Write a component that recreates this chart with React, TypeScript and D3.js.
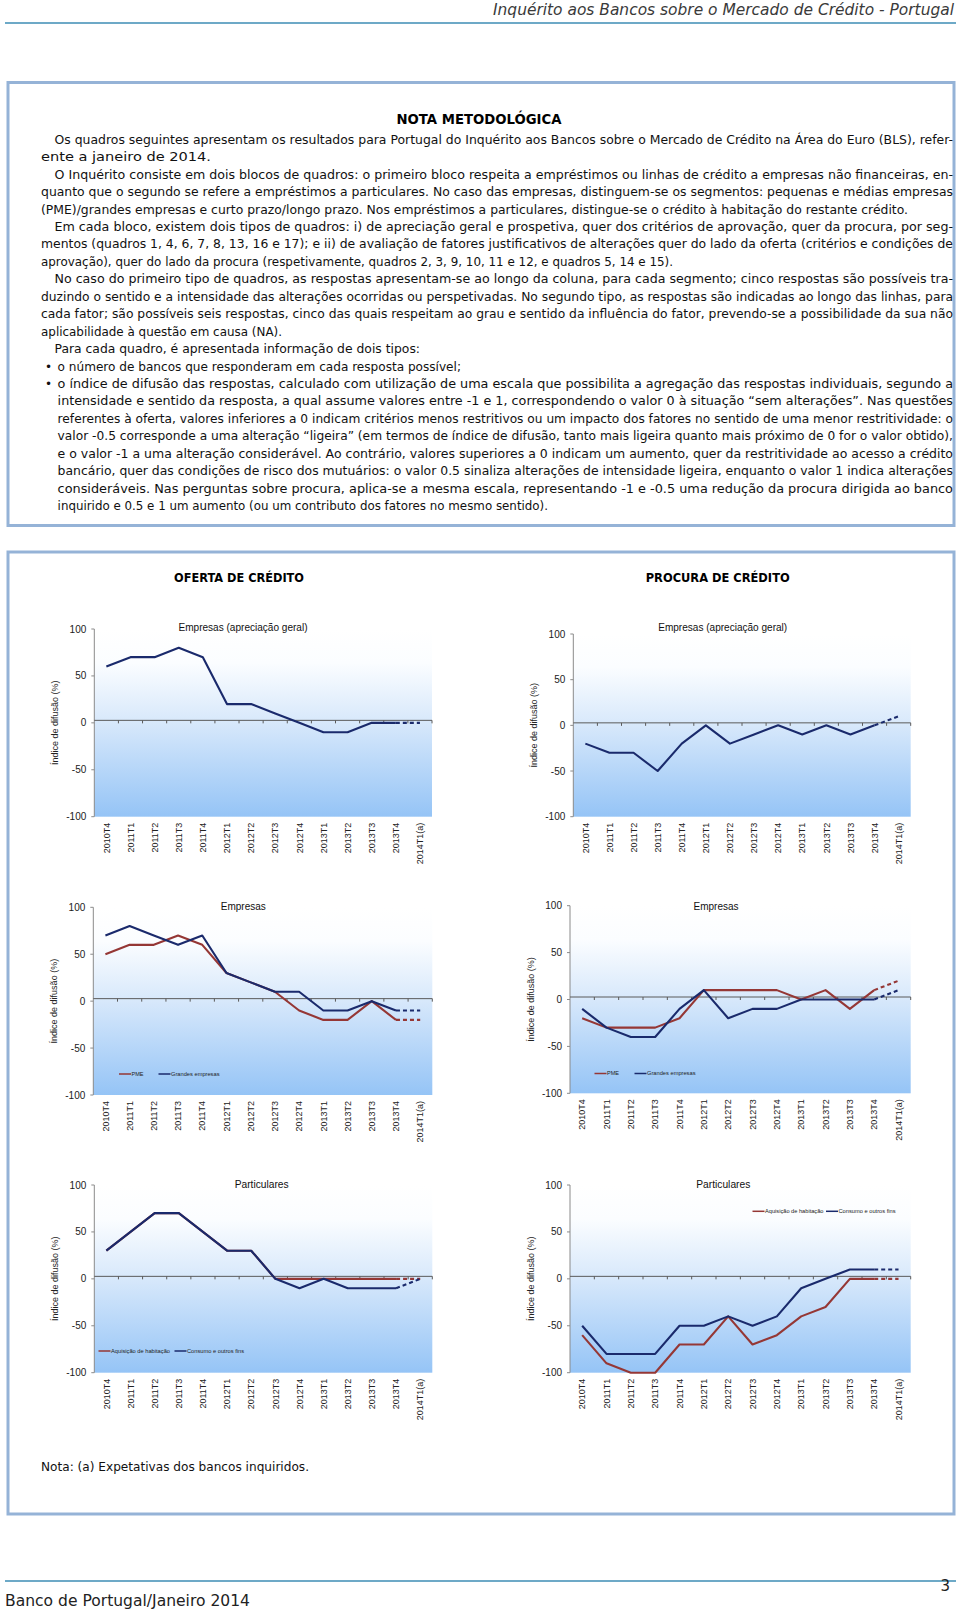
import React from 'react';
import * as d3 from 'd3';

const categories = ['2010T4','2011T1','2011T2','2011T3','2011T4','2012T1','2012T2','2012T3','2012T4','2013T1','2013T2','2013T3','2013T4','2014T1(a)'];
const yTicks = [100, 50, 0, -50, -100];

const ofertaGeral = [60, 70, 70, 80, 70, 20, 20, 10, 0, -10, -10, 0, 0, 0];
const procuraGeral = [-20, -30, -30, -50, -20, 0, -20, -10, 0, -10, 0, -10, 0, 10];
const ofertaPME = [50, 60, 60, 70, 60, 30, 20, 10, -10, -20, -20, 0, -20, -20];
const ofertaGrandes = [70, 80, 70, 60, 70, 30, 20, 10, 10, -10, -10, 0, -10, -10];
const procuraPME = [-20, -30, -30, -30, -20, 10, 10, 10, 10, 0, 10, -10, 10, 20];
const procuraGrandes = [-10, -30, -40, -40, -10, 10, -20, -10, -10, 0, 0, 0, 0, 10];
const ofertaHabitacao = [30, 50, 70, 70, 50, 30, 30, 0, 0, 0, 0, 0, 0, 0];
const ofertaConsumo = [30, 50, 70, 70, 50, 30, 30, 0, -10, 0, -10, -10, -10, 0];
const procuraHabitacao = [-60, -90, -100, -100, -70, -70, -40, -70, -60, -40, -30, 0, 0, 0];
const procuraConsumo = [-50, -80, -80, -80, -50, -50, -40, -50, -40, -10, 0, 10, 10, 10];

const NAVY = '#1a2a6c';
const RED = '#953735';
const CHART_FONT = '"Liberation Sans", Arial, sans-serif';
const BODY_FONT = '"DejaVu Sans", sans-serif';

type Line = { t: string; x: number; end: number; bullet?: boolean };
const bodyLines: Line[] = [
  { t: 'Os quadros seguintes apresentam os resultados para Portugal do Inquérito aos Bancos sobre o Mercado de Crédito na Área do Euro (BLS), refer-', x: 54.5, end: 953 },
  { t: 'ente a janeiro de 2014.', x: 41, end: 211 },
  { t: 'O Inquérito consiste em dois blocos de quadros: o primeiro bloco respeita a empréstimos ou linhas de crédito a empresas não financeiras, en-', x: 54.5, end: 953 },
  { t: 'quanto que o segundo se refere a empréstimos a particulares. No caso das empresas, distinguem-se os segmentos: pequenas e médias empresas', x: 41, end: 953 },
  { t: '(PME)/grandes empresas e curto prazo/longo prazo. Nos empréstimos a particulares, distingue-se o crédito à habitação do restante crédito.', x: 41, end: 908 },
  { t: 'Em cada bloco, existem dois tipos de quadros: i) de apreciação geral e prospetiva, quer dos critérios de aprovação, quer da procura, por seg-', x: 54.5, end: 953 },
  { t: 'mentos (quadros 1, 4, 6, 7, 8, 13, 16 e 17); e ii) de avaliação de fatores justificativos de alterações quer do lado da oferta (critérios e condições de', x: 41, end: 953 },
  { t: 'aprovação), quer do lado da procura (respetivamente, quadros 2, 3, 9, 10, 11 e 12, e quadros 5, 14 e 15).', x: 41, end: 673 },
  { t: 'No caso do primeiro tipo de quadros, as respostas apresentam-se ao longo da coluna, para cada segmento; cinco respostas são possíveis tra-', x: 54.5, end: 953 },
  { t: 'duzindo o sentido e a intensidade das alterações ocorridas ou perspetivadas. No segundo tipo, as respostas são indicadas ao longo das linhas, para', x: 41, end: 953 },
  { t: 'cada fator; são possíveis seis respostas, cinco das quais respeitam ao grau e sentido da influência do fator, prevendo-se a possibilidade da sua não', x: 41, end: 953 },
  { t: 'aplicabilidade à questão em causa (NA).', x: 41, end: 282 },
  { t: 'Para cada quadro, é apresentada informação de dois tipos:', x: 54.5, end: 420 },
  { t: 'o número de bancos que responderam em cada resposta possível;', x: 57.6, end: 461, bullet: true },
  { t: 'o índice de difusão das respostas, calculado com utilização de uma escala que possibilita a agregação das respostas individuais, segundo a', x: 57.6, end: 953, bullet: true },
  { t: 'intensidade e sentido da resposta, a qual assume valores entre -1 e 1, correspondendo o valor 0 à situação “sem alterações”. Nas questões', x: 57.6, end: 953 },
  { t: 'referentes à oferta, valores inferiores a 0 indicam critérios menos restritivos ou um impacto dos fatores no sentido de uma menor restritividade: o', x: 57.6, end: 953 },
  { t: 'valor -0.5 corresponde a uma alteração “ligeira” (em termos de índice de difusão, tanto mais ligeira quanto mais próximo de 0 for o valor obtido),', x: 57.6, end: 953 },
  { t: 'e o valor -1 a uma alteração considerável. Ao contrário, valores superiores a 0 indicam um aumento, quer da restritividade ao acesso a crédito', x: 57.6, end: 953 },
  { t: 'bancário, quer das condições de risco dos mutuários: o valor 0.5 sinaliza alterações de intensidade ligeira, enquanto o valor 1 indica alterações', x: 57.6, end: 953 },
  { t: 'consideráveis. Nas perguntas sobre procura, aplica-se a mesma escala, representando -1 e -0.5 uma redução da procura dirigida ao banco', x: 57.6, end: 953 },
  { t: 'inquirido e 0.5 e 1 um aumento (ou um contributo dos fatores no mesmo sentido).', x: 57.6, end: 548 },
];

type Series = { name: string; values: number[]; color: string };
type LegendItem = { label: string; color: string; x: number; w: number };

interface ChartProps {
  id: string;
  x0: number; x1: number; yTop: number; yBottom: number;
  title: string; titleX: number; titleY: number; titleW: number;
  series: Series[];
  legend?: { y: number; items: LegendItem[] };
}

function Chart(p: ChartProps) {
  const x = d3.scaleBand<string>().domain(categories).range([p.x0, p.x1]);
  const y = d3.scaleLinear().domain([-100, 100]).range([p.yBottom, p.yTop]);
  const cx = (i: number) => (x(categories[i]) as number) + x.bandwidth() / 2;
  const line = d3.line<[number, number]>().x(d => cx(d[0])).y(d => y(d[1]));
  const zeroY = y(0) - 2.5;
  const last = categories.length - 1;
  return (
    <g>
      <defs>
        <linearGradient id={p.id} x1="0" y1="0" x2="0" y2="1">
          <stop offset="0" stopColor="#ffffff" />
          <stop offset="0.18" stopColor="#fbfdff" />
          <stop offset="0.5" stopColor="#d7e8fb" />
          <stop offset="1" stopColor="#95c4f6" />
        </linearGradient>
      </defs>
      <rect x={p.x0} y={p.yTop} width={p.x1 - p.x0} height={p.yBottom - p.yTop} fill={`url(#${p.id})`} />
      <line x1={p.x0} x2={p.x0} y1={p.yTop} y2={p.yBottom} stroke="#8a8a8a" strokeWidth={1} />
      {yTicks.map(t => (
        <g key={t}>
          <line x1={p.x0 - 3} x2={p.x0} y1={y(t)} y2={y(t)} stroke="#8a8a8a" />
          <text x={p.x0 - 8} y={y(t)} dy="0.35em" textAnchor="end" fontSize={10} fontFamily={CHART_FONT} fill="#222">{t}</text>
        </g>
      ))}
      <line x1={p.x0} x2={p.x1} y1={zeroY} y2={zeroY} stroke="#5a5a5a" strokeWidth={1} />
      {categories.map((c) => (
        <line key={'tk' + c} x1={(x(c) as number) + x.bandwidth()} x2={(x(c) as number) + x.bandwidth()} y1={zeroY} y2={zeroY + 3} stroke="#5a5a5a" />
      ))}
      {categories.map((c, i) => (
        <text key={c} transform={`translate(${cx(i) + 3.2},${p.yBottom + 6}) rotate(-90)`} textAnchor="end" fontSize={9} fontFamily={CHART_FONT} fill="#222">{c}</text>
      ))}
      <text transform={`translate(${p.x0 - 36},${(p.yTop + p.yBottom) / 2}) rotate(-90)`} textAnchor="middle" fontSize={9} fontFamily={CHART_FONT} fill="#222">Índice de difusão (%)</text>
      <text x={p.titleX} y={p.titleY} dy="0.35em" textAnchor="middle" fontSize={10} fontFamily={CHART_FONT} fill="#111" textLength={p.titleW} lengthAdjust="spacingAndGlyphs">{p.title}</text>
      {p.series.map(s => {
        const pts: [number, number][] = s.values.map((v, i) => [i, v]);
        return (
          <g key={s.name}>
            <path d={line(pts.slice(0, last)) as string} fill="none" stroke={s.color} strokeWidth={2.1} strokeLinejoin="round" />
            <path d={line(pts.slice(last - 1)) as string} fill="none" stroke={s.color} strokeWidth={2.1} strokeDasharray="4,3" />
          </g>
        );
      })}
      {p.legend && p.legend.items.map(it => (
        <g key={it.label}>
          <line x1={it.x} x2={it.x + 12} y1={p.legend!.y} y2={p.legend!.y} stroke={it.color} strokeWidth={1.5} />
          <text x={it.x + 12.5} y={p.legend!.y} dy="0.35em" fontSize={5.6} fontFamily={CHART_FONT} fill="#222" textLength={it.w} lengthAdjust="spacingAndGlyphs">{it.label}</text>
        </g>
      ))}
    </g>
  );
}

export default function App() {
  const lineY0 = 139.5;
  const lineStep = 17.45;
  return (
    <svg width={960} height={1612} viewBox="0 0 960 1612" style={{ position: 'absolute', left: 0, top: 0, background: '#fff' }}>
      <rect x={0} y={0} width={960} height={1612} fill="#fff" />
      {/* header */}
      <text x={954} y={15} textAnchor="end" fontSize={15} fontStyle="italic" fontFamily={BODY_FONT} fill="#3a3a3a" textLength={461} lengthAdjust="spacingAndGlyphs">Inquérito aos Bancos sobre o Mercado de Crédito - Portugal</text>
      <line x1={5} x2={956} y1={23} y2={23} stroke="#3d8db5" strokeWidth={1.5} />

      {/* box 1 */}
      <rect x={8} y={82.5} width={946} height={443} fill="none" stroke="#95b3d7" strokeWidth={3} />
      <text x={479} y={119} dy="0.35em" textAnchor="middle" fontSize={14} fontWeight="bold" fontFamily={BODY_FONT} fill="#000" textLength={165} lengthAdjust="spacingAndGlyphs">NOTA METODOLÓGICA</text>
      {bodyLines.map((l, i) => (
        <g key={i}>
          {l.bullet && <text x={45} y={lineY0 + i * lineStep} dy="0.35em" fontSize={12} fontFamily={BODY_FONT} fill="#111">•</text>}
          <text x={l.x} y={lineY0 + i * lineStep} dy="0.35em" fontSize={12} fontFamily={BODY_FONT} fill="#111" textLength={l.end - l.x} lengthAdjust="spacingAndGlyphs">{l.t}</text>
        </g>
      ))}

      {/* box 2 */}
      <rect x={8} y={552} width={946} height={962} fill="none" stroke="#95b3d7" strokeWidth={3} />
      <text x={239} y={577} dy="0.35em" textAnchor="middle" fontSize={13} fontWeight="bold" fontFamily={BODY_FONT} fill="#000" textLength={130} lengthAdjust="spacingAndGlyphs">OFERTA DE CRÉDITO</text>
      <text x={717.7} y={577} dy="0.35em" textAnchor="middle" fontSize={13} fontWeight="bold" fontFamily={BODY_FONT} fill="#000" textLength={144} lengthAdjust="spacingAndGlyphs">PROCURA DE CRÉDITO</text>

      <Chart id="g1" x0={94.3} x1={432} yTop={629} yBottom={816.7} title="Empresas (apreciação geral)" titleX={243} titleY={627} titleW={129}
        series={[{ name: 'geral', values: ofertaGeral, color: NAVY }]} />
      <Chart id="g2" x0={573.3} x1={910.7} yTop={634} yBottom={816.7} title="Empresas (apreciação geral)" titleX={722.7} titleY={627.3} titleW={129}
        series={[{ name: 'geral', values: procuraGeral, color: NAVY }]} />
      <Chart id="g3" x0={93.3} x1={432.3} yTop={907.3} yBottom={1095} title="Empresas" titleX={243.3} titleY={906} titleW={45}
        series={[{ name: 'PME', values: ofertaPME, color: RED }, { name: 'Grandes empresas', values: ofertaGrandes, color: NAVY }]}
        legend={{ y: 1074, items: [{ label: 'PME', color: RED, x: 119, w: 12 }, { label: 'Grandes empresas', color: NAVY, x: 158.5, w: 48.5 }] }} />
      <Chart id="g4" x0={570} x1={910.7} yTop={905.7} yBottom={1093.3} title="Empresas" titleX={716} titleY={906} titleW={45}
        series={[{ name: 'PME', values: procuraPME, color: RED }, { name: 'Grandes empresas', values: procuraGrandes, color: NAVY }]}
        legend={{ y: 1073.5, items: [{ label: 'PME', color: RED, x: 594.5, w: 12 }, { label: 'Grandes empresas', color: NAVY, x: 634.5, w: 48.5 }] }} />
      <Chart id="g5" x0={94.3} x1={432.3} yTop={1185} yBottom={1372.7} title="Particulares" titleX={261.7} titleY={1184} titleW={54}
        series={[{ name: 'Aquisição de habitação', values: ofertaHabitacao, color: RED }, { name: 'Consumo e outros fins', values: ofertaConsumo, color: NAVY }]}
        legend={{ y: 1351, items: [{ label: 'Aquisição de habitação', color: RED, x: 98.5, w: 59 }, { label: 'Consumo e outros fins', color: NAVY, x: 174.5, w: 57 }] }} />
      <Chart id="g6" x0={570} x1={910.7} yTop={1185} yBottom={1372.7} title="Particulares" titleX={723.3} titleY={1184} titleW={54}
        series={[{ name: 'Aquisição de habitação', values: procuraHabitacao, color: RED }, { name: 'Consumo e outros fins', values: procuraConsumo, color: NAVY }]}
        legend={{ y: 1211.3, items: [{ label: 'Aquisição de habitação', color: RED, x: 752.5, w: 58.5 }, { label: 'Consumo e outros fins', color: NAVY, x: 826, w: 57 }] }} />

      <text x={41} y={1467} dy="0.35em" fontSize={12} fontFamily={BODY_FONT} fill="#111" textLength={268} lengthAdjust="spacingAndGlyphs">Nota: (a) Expetativas dos bancos inquiridos.</text>

      {/* footer */}
      <line x1={5} x2={956} y1={1581} y2={1581} stroke="#3d8db5" strokeWidth={1.5} />
      <text x={950} y={1586} dy="0.35em" textAnchor="end" fontSize={15} fontFamily={BODY_FONT} fill="#222">3</text>
      <text x={5} y={1601} dy="0.35em" fontSize={15} fontFamily={BODY_FONT} fill="#222" textLength={245} lengthAdjust="spacingAndGlyphs">Banco de Portugal/Janeiro 2014</text>
    </svg>
  );
}
